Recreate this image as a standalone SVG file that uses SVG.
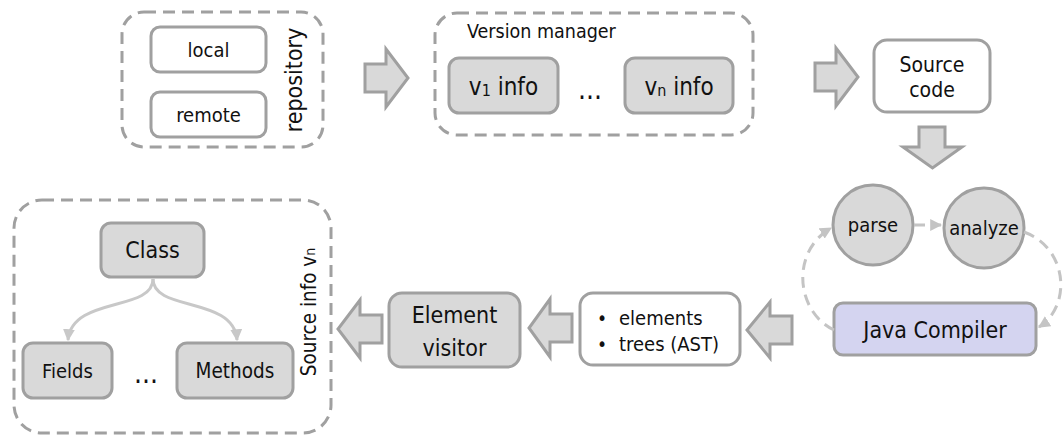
<svg xmlns="http://www.w3.org/2000/svg" width="1064" height="438" viewBox="0 0 1064 438">
<defs>
<style>
text{font-family:"DejaVu Sans Condensed","DejaVu Sans",sans-serif;fill:#111;font-stretch:condensed}
.cont{fill:none;stroke:#a0a0a0;stroke-width:3;stroke-dasharray:12 7}
.box{fill:#fff;stroke:#a0a0a0;stroke-width:3}
.gbox{fill:#d9d9d9;stroke:#a0a0a0;stroke-width:3}
.blk{fill:#d9d9d9;stroke:#a0a0a0;stroke-width:3;stroke-linejoin:miter}
.loop{fill:none;stroke:#c4c4c4;stroke-width:3;stroke-dasharray:11 7}
.tree{fill:none;stroke:#c8c8c8;stroke-width:3}
</style>
<marker id="ah" viewBox="0 0 10 10" refX="9" refY="5" markerWidth="4" markerHeight="4" orient="auto" markerUnits="strokeWidth">
<path d="M0,0 L10,5 L0,10 z" fill="#c4c4c4"/>
</marker>
<marker id="th" viewBox="0 0 10 10" refX="9" refY="5" markerWidth="4" markerHeight="4" orient="auto" markerUnits="strokeWidth">
<path d="M0,0 L10,5 L0,10 z" fill="#c8c8c8"/>
</marker>
</defs>

<g id="repository">
<rect class="cont" x="122" y="12" width="201" height="135" rx="22"/>
<g id="local"><rect class="box" x="151" y="27" width="115" height="45" rx="9"/><text x="208.5" y="57" font-size="20" text-anchor="middle">local</text></g>
<g id="remote"><rect class="box" x="151" y="92" width="115" height="45" rx="9"/><text x="208.5" y="122" font-size="20" text-anchor="middle">remote</text></g>
<text transform="translate(302,80) rotate(-90)" font-size="23" text-anchor="middle">repository</text>
</g>

<g id="version-manager">
<rect class="cont" x="435" y="13" width="318" height="122" rx="22"/>
<text x="467" y="38" font-size="19.5">Version manager</text>
<g id="v1"><rect class="gbox" x="449" y="58" width="109" height="55" rx="10"/><text x="503.5" y="95" font-size="24" text-anchor="middle">v<tspan font-size="16" dy="1">1</tspan><tspan dy="-1"> info</tspan></text></g>
<text x="590" y="99" font-size="28" text-anchor="middle">...</text>
<g id="vn"><rect class="gbox" x="625" y="58" width="108" height="55" rx="10"/><text x="679" y="95" font-size="24" text-anchor="middle">v<tspan font-size="16" dy="1">n</tspan><tspan dy="-1"> info</tspan></text></g>
</g>

<g id="source-code">
<rect class="box" x="874" y="40" width="116" height="72" rx="13"/>
<text x="932" y="72" font-size="21" text-anchor="middle">Source</text>
<text x="932" y="97" font-size="21" text-anchor="middle">code</text>
</g>

<g id="parse"><circle class="gbox" cx="873" cy="225" r="40"/><text x="873" y="232" font-size="20" text-anchor="middle">parse</text></g>
<g id="analyze"><circle class="gbox" cx="984" cy="228" r="40"/><text x="984" y="235" font-size="20" text-anchor="middle">analyze</text></g>

<g id="java-compiler">
<rect x="834" y="303" width="202" height="52" rx="9" fill="#d4d4f0" stroke="#a0a0a0" stroke-width="3"/>
<text x="935" y="338" font-size="23" text-anchor="middle">Java Compiler</text>
</g>

<g id="elements">
<rect class="box" x="580" y="293" width="160" height="72" rx="13"/>
<text x="597" y="325" font-size="19">•</text><text x="619" y="325" font-size="20">elements</text>
<text x="597" y="351" font-size="19">•</text><text x="619" y="351" font-size="20">trees (AST)</text>
</g>

<g id="element-visitor">
<rect class="gbox" x="389" y="293" width="131" height="74" rx="13"/>
<text x="454.5" y="323" font-size="23" text-anchor="middle">Element</text>
<text x="454.5" y="356" font-size="23" text-anchor="middle">visitor</text>
</g>

<g id="source-info">
<rect class="cont" x="14" y="200" width="317" height="233" rx="28"/>
<g id="class"><rect class="gbox" x="101" y="223" width="103" height="54" rx="10"/><text x="152.5" y="258" font-size="23" text-anchor="middle">Class</text></g>
<g id="fields"><rect class="gbox" x="23" y="343" width="89" height="55" rx="10"/><text x="67.5" y="378" font-size="20" text-anchor="middle">Fields</text></g>
<text x="146" y="383" font-size="28" text-anchor="middle">...</text>
<g id="methods"><rect class="gbox" x="177" y="343" width="116" height="55" rx="10"/><text x="235" y="378" font-size="20.5" text-anchor="middle">Methods</text></g>
<text transform="translate(316,312) rotate(-90)" font-size="20.5" text-anchor="middle">Source info v<tspan font-size="14" dy="-1">n</tspan></text>
</g>

<g id="connectors">
<polygon class="blk" points="365,64 386,64 386,49 408,78 386,107 386,92 365,92"/>
<polygon class="blk" points="815,63 836,63 836,48 858,77 836,106 836,91 815,91"/>
<polygon class="blk" points="919,127 945,127 945,147 962,147 932.5,168 903,147 919,147"/>
<polygon class="blk" points="792,316 770,316 770,302 747,330 770,358 770,344 792,344"/>
<polygon class="blk" points="572,314 550,314 550,299 529,328 550,357 550,342 572,342"/>
<polygon class="blk" points="382,315 360,315 360,300 338,329 360,358 360,343 382,343"/>
<path class="loop" d="M914,225 L941,225" marker-end="url(#ah)"/>
<path class="loop" d="M834,330 C796,312 790,252 831,228" marker-end="url(#ah)"/>
<path class="loop" d="M1024,232 C1068,248 1072,306 1039,327" marker-end="url(#ah)"/>
<path class="tree" d="M153,279 C153,312 72,296 68,340" marker-end="url(#th)"/>
<path class="tree" d="M153,279 C153,312 234,296 237,340" marker-end="url(#th)"/>
</g>
</svg>
